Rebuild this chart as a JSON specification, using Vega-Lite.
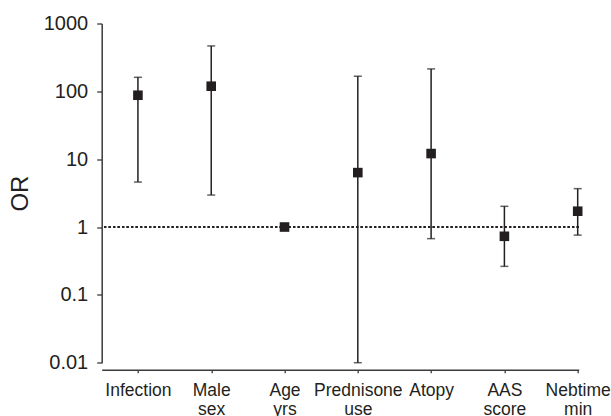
{
  "$schema": "https://vega.github.io/schema/vega-lite/v6.json",
  "autosize": {"type": "none"},
  "padding": {"left": 101.7, "top": 23.5, "right": 32.3, "bottom": 53.3},
  "width": 477,
  "height": 339.2,
  "background": "white",
  "config": {
    "view": {"stroke": null},
    "font": "Liberation Sans",
    "axis": {"grid": false, "domainColor": "#3a3a3a", "tickColor": "#3a3a3a", "labelColor": "#231f20", "titleColor": "#231f20", "domainWidth": 1.5, "tickWidth": 1.3}
  },
  "data": {
    "values": [
      {"var": "Infection", "or": 87.6, "lo": 4.6, "hi": 161},
      {"var": "Male sex", "or": 119, "lo": 2.96, "hi": 467},
      {"var": "Age yrs", "or": 1.0, "lo": 0.97, "hi": 1.03},
      {"var": "Prednisone use", "or": 6.34, "lo": 0.01, "hi": 167},
      {"var": "Atopy", "or": 12.1, "lo": 0.674, "hi": 214},
      {"var": "AAS score", "or": 0.73, "lo": 0.263, "hi": 2.02},
      {"var": "Nebtime min", "or": 1.71, "lo": 0.76, "hi": 3.68}
    ]
  },
  "encoding": {
    "x": {
      "field": "var", "type": "nominal", "sort": null, "title": null,
      "scale": {"type": "point", "padding": 0.254, "align": 0.973},
      "axis": {"offset": 7, "tickSize": 3, "labelPadding": 9, "labelAngle": 0, "labelFontSize": 17.5, "labelLineHeight": 19, "labelExpr": "split(datum.label, ' ')", "labelBaseline": "top"}
    }
  },
  "layer": [
    {
      "mark": {"type": "rule", "strokeDash": [2, 2.5], "strokeWidth": 1, "color": "#231f20"},
      "encoding": {"y": {"datum": 1, "type": "quantitative"}, "x": null}
    },
    {
      "mark": {"type": "rule", "strokeWidth": 1.5, "color": "#231f20"},
      "encoding": {
        "y": {"field": "lo", "type": "quantitative", "scale": {"type": "log", "domain": [0.01, 1000], "nice": false}, "title": "OR",
          "axis": {"values": [0.01, 0.1, 1, 10, 100, 1000], "format": "~g", "tickSize": 5, "labelPadding": 9, "labelFontSize": 20, "titleFontSize": 24, "titleFontWeight": "normal", "titlePadding": 11}},
        "y2": {"field": "hi"}
      }
    },
    {
      "mark": {"type": "tick", "size": 8, "thickness": 1.5, "color": "#231f20", "orient": "horizontal"},
      "encoding": {"y": {"field": "lo", "type": "quantitative"}}
    },
    {
      "mark": {"type": "tick", "size": 8, "thickness": 1.5, "color": "#231f20", "orient": "horizontal"},
      "encoding": {"y": {"field": "hi", "type": "quantitative"}}
    },
    {
      "mark": {"type": "square", "size": 92, "filled": true, "opacity": 1, "color": "#231f20"},
      "encoding": {"y": {"field": "or", "type": "quantitative"}}
    }
  ]
}
